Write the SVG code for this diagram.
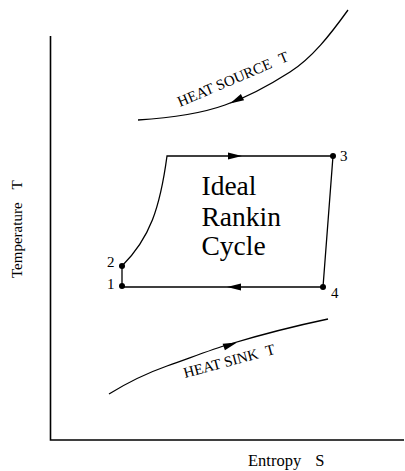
<svg xmlns="http://www.w3.org/2000/svg" xmlns:xlink="http://www.w3.org/1999/xlink" width="405" height="471" viewBox="0 0 405 471">
<style>
.ln{fill:none;stroke:#000;stroke-width:1.3}
.ax{fill:none;stroke:#000;stroke-width:1.6}
.t{font-family:"Liberation Serif","Times New Roman",serif;fill:#000}
.dot{fill:#000}
</style>
<defs>
<path id="ah" d="M0,0 L-14,-3.5 L-14,3.5 Z" fill="#000"/>
</defs>
<rect width="405" height="471" fill="#fff"/>
<g id="axes">
<path class="ax" d="M50.5,36 V440 H404"/>
<text class="t" font-size="15" transform="translate(21.5,278) rotate(-90)">Temperature<tspan dx="13">T</tspan></text>
<text class="t" font-size="16.5" x="248" y="466">Entropy<tspan dx="14">S</tspan></text>
</g>
<g id="connectors">
<path class="ln" d="M122,266 C150,238 160,208 167,156 H333 L323,287 H122 Z"/>
<use xlink:href="#ah" transform="translate(242,156)"/>
<use xlink:href="#ah" transform="translate(227,287) rotate(180)"/>
<path class="ln" d="M348,10 C330,35 312,58 290,72 C265,88 245,98 225,105 C200,114 170,118 138,120"/>
<use xlink:href="#ah" transform="translate(230,103.5) rotate(153)"/>
<path class="ln" d="M109,394 C130,381 150,372 167,366 C190,358 210,350 230,344 C260,335 290,327 328,319"/>
<use xlink:href="#ah" transform="translate(237,342.5) rotate(-19)"/>
</g>
<g id="node1"><circle class="dot" cx="122" cy="286" r="3"/><text class="t" font-size="15" x="107" y="289">1</text></g>
<g id="node2"><circle class="dot" cx="122" cy="266" r="3"/><text class="t" font-size="15" x="107" y="266.5">2</text></g>
<g id="node3"><circle class="dot" cx="333" cy="156" r="3"/><text class="t" font-size="15" x="340" y="160.5">3</text></g>
<g id="node4"><circle class="dot" cx="323" cy="287" r="3"/><text class="t" font-size="15" x="331" y="298">4</text></g>
<g id="label">
<text class="t" font-size="27.5" x="201.5" y="195">Ideal</text>
<text class="t" font-size="27.5" x="201.5" y="225.5">Rankin</text>
<text class="t" font-size="27.5" x="201.5" y="255">Cycle</text>
</g>
<g id="source"><text class="t" font-size="15" transform="translate(180,107) rotate(-23)">HEAT SOURCE<tspan dx="9">T</tspan></text></g>
<g id="sink"><text class="t" font-size="15" transform="translate(185,378) rotate(-15)">HEAT SINK<tspan dx="8">T</tspan></text></g>
</svg>
